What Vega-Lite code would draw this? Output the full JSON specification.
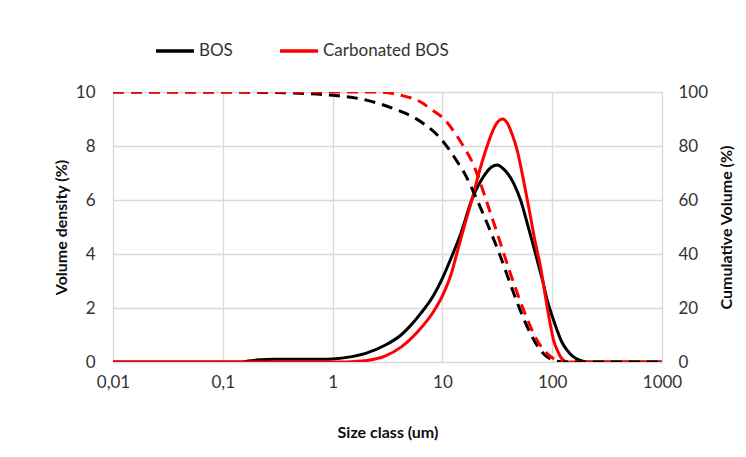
{
  "$schema": "https://vega.github.io/schema/vega-lite/v6.json",
  "width": 549,
  "height": 270,
  "autosize": {"type": "none"},
  "padding": {"left": 113, "top": 92, "right": 84, "bottom": 95},
  "background": "white",
  "config": {
    "font": "Lato",
    "view": {"stroke": null},
    "axis": {"labelFont": "Lato", "titleFont": "Lato", "labelColor": "#333333", "titleColor": "#0d0d0d", "labelFontSize": 17, "titleFontSize": 16, "titleFontWeight": "bold", "gridColor": "#d9d9d9", "gridWidth": 1.3, "domain": false, "ticks": false, "labelFlush": false}
  },
  "datasets": {
    "dens": [
      {"sample": "BOS", "size": 0.01, "v": 0},
      {"sample": "BOS", "size": 0.15, "v": 0},
      {"sample": "BOS", "size": 0.17, "v": 0.04},
      {"sample": "BOS", "size": 0.2, "v": 0.07},
      {"sample": "BOS", "size": 0.3, "v": 0.1},
      {"sample": "BOS", "size": 0.5, "v": 0.1},
      {"sample": "BOS", "size": 0.8, "v": 0.1},
      {"sample": "BOS", "size": 1, "v": 0.11},
      {"sample": "BOS", "size": 1.5, "v": 0.2},
      {"sample": "BOS", "size": 2, "v": 0.32},
      {"sample": "BOS", "size": 3, "v": 0.62},
      {"sample": "BOS", "size": 4.2, "v": 1.0},
      {"sample": "BOS", "size": 5, "v": 1.3},
      {"sample": "BOS", "size": 6.3, "v": 1.78},
      {"sample": "BOS", "size": 8.4, "v": 2.5},
      {"sample": "BOS", "size": 10, "v": 3.1},
      {"sample": "BOS", "size": 12, "v": 3.85},
      {"sample": "BOS", "size": 14.7, "v": 4.75},
      {"sample": "BOS", "size": 18.7, "v": 6.05},
      {"sample": "BOS", "size": 24, "v": 6.9},
      {"sample": "BOS", "size": 28, "v": 7.22},
      {"sample": "BOS", "size": 31.6, "v": 7.3},
      {"sample": "BOS", "size": 36, "v": 7.15},
      {"sample": "BOS", "size": 44.8, "v": 6.6},
      {"sample": "BOS", "size": 52, "v": 5.95},
      {"sample": "BOS", "size": 59.3, "v": 5.13},
      {"sample": "BOS", "size": 66, "v": 4.45},
      {"sample": "BOS", "size": 73, "v": 3.77},
      {"sample": "BOS", "size": 82, "v": 3.0},
      {"sample": "BOS", "size": 90, "v": 2.29},
      {"sample": "BOS", "size": 100, "v": 1.7},
      {"sample": "BOS", "size": 111, "v": 1.17},
      {"sample": "BOS", "size": 122, "v": 0.75},
      {"sample": "BOS", "size": 137, "v": 0.43},
      {"sample": "BOS", "size": 155, "v": 0.2},
      {"sample": "BOS", "size": 181, "v": 0.06},
      {"sample": "BOS", "size": 210, "v": 0},
      {"sample": "BOS", "size": 300, "v": 0},
      {"sample": "BOS", "size": 1000, "v": 0},
      {"sample": "Carbonated BOS", "size": 0.01, "v": 0},
      {"sample": "Carbonated BOS", "size": 1.2, "v": 0},
      {"sample": "Carbonated BOS", "size": 1.6, "v": 0.02},
      {"sample": "Carbonated BOS", "size": 2, "v": 0.05},
      {"sample": "Carbonated BOS", "size": 3, "v": 0.22},
      {"sample": "Carbonated BOS", "size": 4.2, "v": 0.55},
      {"sample": "Carbonated BOS", "size": 6.35, "v": 1.25},
      {"sample": "Carbonated BOS", "size": 8.4, "v": 1.9},
      {"sample": "Carbonated BOS", "size": 10, "v": 2.45},
      {"sample": "Carbonated BOS", "size": 12, "v": 3.25},
      {"sample": "Carbonated BOS", "size": 13.7, "v": 4.1},
      {"sample": "Carbonated BOS", "size": 16, "v": 5.1},
      {"sample": "Carbonated BOS", "size": 18.7, "v": 6.05},
      {"sample": "Carbonated BOS", "size": 21.5, "v": 7.0},
      {"sample": "Carbonated BOS", "size": 24.8, "v": 7.84},
      {"sample": "Carbonated BOS", "size": 29, "v": 8.6},
      {"sample": "Carbonated BOS", "size": 32, "v": 8.9},
      {"sample": "Carbonated BOS", "size": 35.4, "v": 9.0},
      {"sample": "Carbonated BOS", "size": 39, "v": 8.85},
      {"sample": "Carbonated BOS", "size": 43, "v": 8.45},
      {"sample": "Carbonated BOS", "size": 48, "v": 7.84},
      {"sample": "Carbonated BOS", "size": 55, "v": 6.7},
      {"sample": "Carbonated BOS", "size": 63.5, "v": 5.37},
      {"sample": "Carbonated BOS", "size": 70, "v": 4.45},
      {"sample": "Carbonated BOS", "size": 78.3, "v": 3.52},
      {"sample": "Carbonated BOS", "size": 84, "v": 2.78},
      {"sample": "Carbonated BOS", "size": 90, "v": 2.04},
      {"sample": "Carbonated BOS", "size": 96, "v": 1.4},
      {"sample": "Carbonated BOS", "size": 103, "v": 0.8},
      {"sample": "Carbonated BOS", "size": 111, "v": 0.45},
      {"sample": "Carbonated BOS", "size": 119, "v": 0.19},
      {"sample": "Carbonated BOS", "size": 130, "v": 0.03},
      {"sample": "Carbonated BOS", "size": 140, "v": 0},
      {"sample": "Carbonated BOS", "size": 1000, "v": 0}
    ],
    "cum": [
      {"sample": "BOS", "size": 0.01, "c": 100},
      {"sample": "BOS", "size": 0.15, "c": 100},
      {"sample": "BOS", "size": 0.2, "c": 99.9},
      {"sample": "BOS", "size": 0.3, "c": 99.8},
      {"sample": "BOS", "size": 0.5, "c": 99.5},
      {"sample": "BOS", "size": 1, "c": 98.8},
      {"sample": "BOS", "size": 2.07, "c": 96.9},
      {"sample": "BOS", "size": 3.62, "c": 93.8},
      {"sample": "BOS", "size": 5.5, "c": 90.6},
      {"sample": "BOS", "size": 7, "c": 87.8},
      {"sample": "BOS", "size": 8.4, "c": 85.2},
      {"sample": "BOS", "size": 11.1, "c": 79.6},
      {"sample": "BOS", "size": 13.7, "c": 74.1},
      {"sample": "BOS", "size": 16.3, "c": 69.1},
      {"sample": "BOS", "size": 18.7, "c": 64.0},
      {"sample": "BOS", "size": 25.6, "c": 51.3},
      {"sample": "BOS", "size": 33.9, "c": 38.9},
      {"sample": "BOS", "size": 44.8, "c": 25.3},
      {"sample": "BOS", "size": 59.3, "c": 13.0},
      {"sample": "BOS", "size": 78.3, "c": 4.3},
      {"sample": "BOS", "size": 103, "c": 0.6},
      {"sample": "BOS", "size": 130, "c": 0},
      {"sample": "BOS", "size": 1000, "c": 0},
      {"sample": "Carbonated BOS", "size": 0.01, "c": 100},
      {"sample": "Carbonated BOS", "size": 2.5, "c": 100},
      {"sample": "Carbonated BOS", "size": 4.18, "c": 98.8},
      {"sample": "Carbonated BOS", "size": 6.35, "c": 96.3},
      {"sample": "Carbonated BOS", "size": 8, "c": 93.4},
      {"sample": "Carbonated BOS", "size": 10.3, "c": 90.1},
      {"sample": "Carbonated BOS", "size": 12.8, "c": 85.2},
      {"sample": "Carbonated BOS", "size": 15.7, "c": 79.6},
      {"sample": "Carbonated BOS", "size": 18.7, "c": 74},
      {"sample": "Carbonated BOS", "size": 21.5, "c": 67.9},
      {"sample": "Carbonated BOS", "size": 23.9, "c": 62.4},
      {"sample": "Carbonated BOS", "size": 31.6, "c": 47.6},
      {"sample": "Carbonated BOS", "size": 41.7, "c": 32.7},
      {"sample": "Carbonated BOS", "size": 55.1, "c": 19.1},
      {"sample": "Carbonated BOS", "size": 73, "c": 8.0},
      {"sample": "Carbonated BOS", "size": 90, "c": 3.1},
      {"sample": "Carbonated BOS", "size": 111, "c": 0.6},
      {"sample": "Carbonated BOS", "size": 125, "c": 0}
    ]
  },
  "layer": [
    {
      "data": {"name": "dens"},
      "mark": {"type": "line", "strokeWidth": 3, "interpolate": "monotone", "clip": true},
      "encoding": {
        "x": {"field": "size", "type": "quantitative", "scale": {"type": "log", "domain": [0.01, 1000], "nice": false},
          "axis": {"title": "Size class (um)", "values": [0.01, 0.1, 1, 10, 100, 1000], "labelExpr": "replace(toString(datum.value), '.', ',')", "labelPadding": 12, "titlePadding": 34, "grid": true}},
        "y": {"field": "v", "type": "quantitative", "scale": {"domain": [0, 10], "nice": false},
          "axis": {"title": "Volume density (%)", "values": [0, 2, 4, 6, 8, 10], "labelPadding": 18, "titlePadding": 6, "grid": true}},
        "color": {"field": "sample", "type": "nominal",
          "scale": {"domain": ["BOS", "Carbonated BOS"], "range": ["#000000", "#ff0000"]},
          "legend": {"title": null, "orient": "none", "legendX": 41, "legendY": -62, "direction": "horizontal", "symbolType": "stroke", "symbolSize": 1444, "symbolStrokeWidth": 3.5, "symbolDash": [1, 0], "labelFontSize": 17, "labelFont": "Lato", "labelColor": "#333333", "labelOffset": 3, "columnPadding": 40}}
      }
    },
    {
      "data": {"name": "cum"},
      "mark": {"type": "line", "strokeWidth": 3, "strokeDash": [11, 7], "interpolate": "monotone", "clip": true},
      "encoding": {
        "x": {"field": "size", "type": "quantitative", "scale": {"type": "log", "domain": [0.01, 1000], "nice": false}},
        "y": {"field": "c", "type": "quantitative", "scale": {"domain": [0, 100], "nice": false},
          "axis": {"title": "Cumulative Volume (%)", "orient": "right", "titleAngle": 270, "titleBaseline": "bottom", "values": [0, 20, 40, 60, 80, 100], "labelPadding": 16, "titlePadding": 27, "grid": false}},
        "color": {"field": "sample", "type": "nominal"}
      }
    }
  ],
  "resolve": {"scale": {"y": "independent"}}
}
